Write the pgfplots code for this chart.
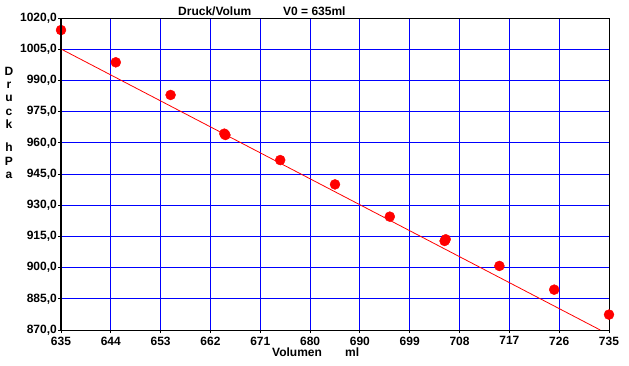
\documentclass[border=0pt]{standalone}
\usepackage{fontspec}
\setmainfont{Liberation Sans}
\usepackage{pgfplots}
\pgfplotsset{compat=1.18}
\definecolor{gblue}{RGB}{0,0,255}
\definecolor{dred}{RGB}{255,0,0}
\begin{document}
\begin{tikzpicture}[x=1pt,y=1pt,font=\bfseries\fontsize{12}{14}\selectfont]
\useasboundingbox (0,0) rectangle (629,365);
\begin{axis}[
  at={(61pt,35pt)}, anchor=south west,
  scale only axis, width=548pt, height=312pt,
  xmin=635, xmax=735, ymin=870, ymax=1020,
  xtick={635,644.0909,653.1818,662.2727,671.3636,680.4545,689.5455,698.6364,707.7273,716.8182,725.9091,735},
  xticklabels={635,644,653,662,671,680,690,699,708,717,726,735},
  ytick={870,885,900,915,930,945,960,975,990,1005,1020},
  yticklabels={{870,0},{885,0},{900,0},{915,0},{930,0},{945,0},{960,0},{975,0},{990,0},{1005,0},{1020,0}},
  tick pos=left, tick align=outside, major tick length=3pt,
  tick style={black, line width=1pt},
  xticklabel style={inner sep=0pt, yshift=-3.5pt},
  yticklabel style={inner sep=1pt},
  grid=major, major grid style={gblue, line width=1pt},
  axis line style={black, line width=1pt},
  clip mode=individual,
]
\addplot[dred, line width=0.8pt] coordinates {(635,1005.1) (733.4,870)};
\addplot[only marks, mark=*, mark size=5pt, color=dred] coordinates {
(635,1014.2) (645,998.7) (655,983.0) (665,963.75) (675,951.7) (685,940.0)
(695,924.5) (705,912.8) (715,900.8) (725,889.4) (735,877.4)};
\addplot[only marks, mark=*, mark size=5pt, color=dred] coordinates {
(664.8,964.4) (705.2,913.6)};
\draw[black, line width=2pt] (rel axis cs:0,0) -- (rel axis cs:0,1);
\end{axis}
\node[anchor=base west, inner sep=0pt] at (178,349.5) {Druck/Volum};
\node[anchor=base west, inner sep=0pt] at (283,349.5) {V0 = 635ml};
\node[anchor=base west, inner sep=0pt] at (272,8.5) {Volumen};
\node[anchor=base west, inner sep=0pt] at (345,8.5) {ml};
\foreach \l/\b in {D/75.5, r/88.5, u/101.5, c/115, k/128, h/151, P/165, a/178}
  \node[anchor=base, inner sep=0pt] at (9,365-\b) {\l};
\end{tikzpicture}
\end{document}
